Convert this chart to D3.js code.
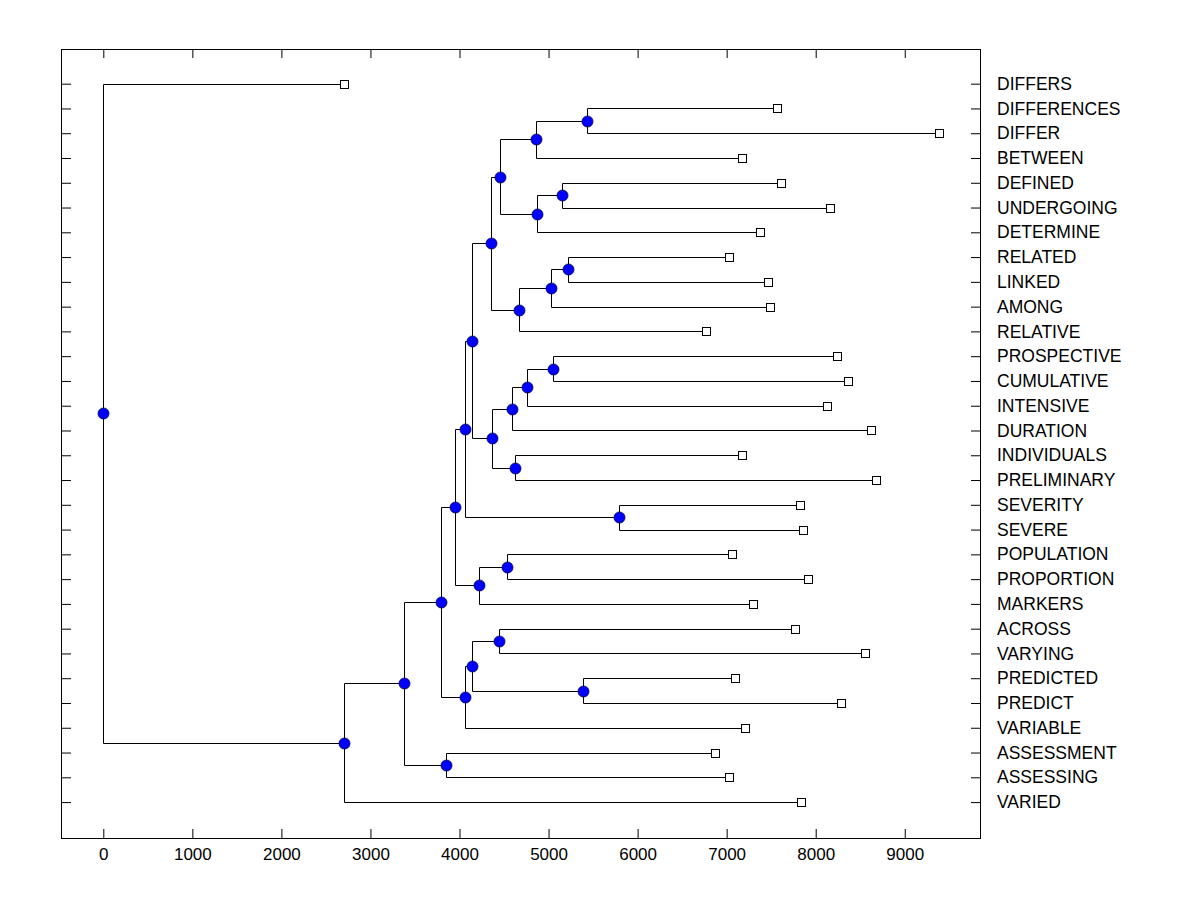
<!DOCTYPE html>
<html>
<head>
<meta charset="utf-8">
<script src="https://cdn.jsdelivr.net/npm/d3@7"></script>
<style>
  body { margin: 0; background: #fff; }
  text { font-family: Arial, "Liberation Sans", sans-serif; }
</style>
</head>
<body>
<div class="canva"></div>
<script>
// leaves, top to bottom
const labels = ['DIFFERS', 'DIFFERENCES', 'DIFFER', 'BETWEEN', 'DEFINED', 'UNDERGOING',
  'DETERMINE', 'RELATED', 'LINKED', 'AMONG', 'RELATIVE', 'PROSPECTIVE', 'CUMULATIVE',
  'INTENSIVE', 'DURATION', 'INDIVIDUALS', 'PRELIMINARY', 'SEVERITY', 'SEVERE',
  'POPULATION', 'PROPORTION', 'MARKERS', 'ACROSS', 'VARYING', 'PREDICTED', 'PREDICT',
  'VARIABLE', 'ASSESSMENT', 'ASSESSING', 'VARIED'];

const leafX = [2704, 7570, 9390, 7176, 7615, 8165, 7379, 7030, 7469, 7491, 6772, 8244,
  8367, 8131, 8626, 7176, 8682, 7828, 7862, 7064, 7918, 7300, 7772, 8558, 7098, 8289,
  7210, 6873, 7030, 7839];

// merges: negative = leaf (1-based), positive = earlier merge (1-based)
const merges = [
  [-2, -3], [1, -4], [-5, -6], [3, -7], [2, 4],
  [-8, -9], [6, -10], [7, -11], [5, 8],
  [-12, -13], [10, -14], [11, -15], [-16, -17], [12, 13], [9, 14],
  [-18, -19], [15, 16], [-20, -21], [18, -22], [17, 19],
  [-23, -24], [-25, -26], [21, 22], [23, -27], [20, 24],
  [-28, -29], [25, 26], [27, -30], [-1, 28]
];
const mergeX = [5435, 4862, 5154, 4873, 4457, 5221, 5030, 4671, 4356, 5053, 4761, 4592,
  4626, 4367, 4143, 5794, 4064, 4536, 4221, 3952, 4446, 5390, 4143, 4064, 3794, 3851,
  3379, 2704, 0];

const xTicks = [0, 1000, 2000, 3000, 4000, 5000, 6000, 7000, 8000, 9000];

const W = 1200, H = 900;
const margin = { left: 61, right: 980, top: 49, bottom: 838 };

const svg = d3.select('.canva').append('svg')
  .attr('width', W)
  .attr('height', H);

const x = d3.scaleLinear().domain([-475, 9845]).range([margin.left, margin.right]);
const y = d3.scaleLinear().domain([-1.4, 30.45]).range([margin.top, margin.bottom]);

function build(id) {
  if (id < 0) return { name: labels[-id - 1], x: leafX[-id - 1], row: -id - 1 };
  const [a, b] = merges[id - 1];
  return { x: mergeX[id - 1], children: [build(a), build(b)] };
}
const root = d3.hierarchy(build(merges.length));
root.eachAfter(d => {
  d.row = d.children
    ? (d.children[0].row + d.children[d.children.length - 1].row) / 2
    : d.data.row;
});

const rows = labels.map((d, i) => i);
const fontFam = 'Arial, "Liberation Sans", sans-serif';

// axes
svg.append('g')
  .attr('transform', `translate(0,${margin.bottom})`)
  .call(d3.axisBottom(x).tickValues(xTicks).tickFormat(d3.format('d'))
    .tickSizeInner(-9).tickSizeOuter(0).tickPadding(10))
  .call(g => g.select('.domain').remove())
  .call(g => g.selectAll('text').attr('font-size', 17).attr('font-family', fontFam).attr('fill', '#000'));

svg.append('g')
  .attr('transform', `translate(0,${margin.top})`)
  .call(d3.axisTop(x).tickValues(xTicks).tickSizeInner(-9).tickSizeOuter(0).tickFormat(''))
  .call(g => g.select('.domain').remove());

svg.append('g')
  .attr('transform', `translate(${margin.left},0)`)
  .call(d3.axisLeft(y).tickValues(rows).tickSizeInner(-10).tickSizeOuter(0).tickFormat(''))
  .call(g => g.select('.domain').remove());

svg.append('g')
  .attr('transform', `translate(${margin.right},0)`)
  .call(d3.axisRight(y).tickValues(rows).tickSizeInner(-9).tickSizeOuter(0)
    .tickPadding(17).tickFormat(i => labels[i]))
  .call(g => g.select('.domain').remove())
  .call(g => g.selectAll('text').attr('font-size', 17.5).attr('font-family', fontFam).attr('fill', '#000'));

svg.selectAll('.tick line').attr('stroke', '#000');

// frame
svg.append('rect')
  .attr('x', margin.left + 0.5).attr('y', margin.top + 0.5)
  .attr('width', margin.right - margin.left).attr('height', margin.bottom - margin.top)
  .attr('fill', 'none').attr('stroke', '#000');

// links
const px = v => Math.round(x(v)) + 0.5;
const py = r => Math.round(y(r)) + 0.5;
const links = svg.append('g')
  .attr('fill', 'none')
  .attr('stroke', '#000')
  .attr('stroke-width', 1);

root.descendants().filter(d => d.children).forEach(d => {
  const kids = d.children;
  links.append('line')
    .attr('x1', px(d.data.x)).attr('x2', px(d.data.x))
    .attr('y1', py(kids[0].row)).attr('y2', py(kids[kids.length - 1].row));
  kids.forEach(k => {
    links.append('line')
      .attr('x1', px(d.data.x)).attr('x2', px(k.data.x))
      .attr('y1', py(k.row)).attr('y2', py(k.row));
  });
});

// internal nodes
svg.append('g').selectAll('circle')
  .data(root.descendants().filter(d => d.children))
  .enter()
  .append('circle')
  .attr('cx', d => px(d.data.x))
  .attr('cy', d => py(d.row))
  .attr('r', 5.5)
  .attr('fill', '#0000ff')
  .attr('stroke', '#000040')
  .attr('stroke-width', 0.8);

// leaves
svg.append('g').selectAll('rect')
  .data(root.leaves())
  .enter()
  .append('rect')
  .attr('x', d => px(d.data.x) - 4)
  .attr('y', d => py(d.row) - 4)
  .attr('width', 8)
  .attr('height', 8)
  .attr('fill', '#fff')
  .attr('stroke', '#000');
</script>
</body>
</html>
